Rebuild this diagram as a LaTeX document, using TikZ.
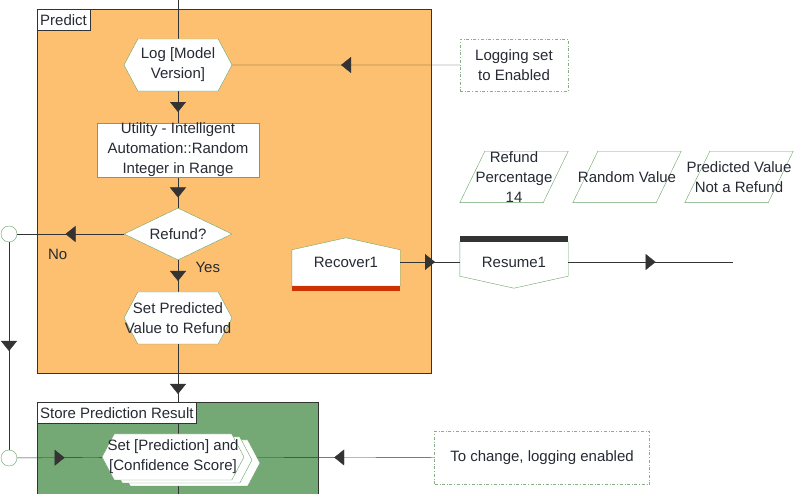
\documentclass[tikz,border=0pt]{standalone}
\usepackage{fontspec}
\setmainfont{Liberation Sans}
\usetikzlibrary{positioning,shapes.geometric,shapes.symbols,shadows,arrows.meta,decorations.markings}

\definecolor{predfill}{HTML}{FDC070}
\definecolor{storefill}{HTML}{74A874}
\definecolor{edgegreen}{HTML}{6AA56A}
\definecolor{linec}{HTML}{333333}
\definecolor{textc}{HTML}{262A33}
\definecolor{barred}{HTML}{CC3300}
\definecolor{notec}{HTML}{8AAE8A}
\newcommand{\ctr}[1]{\makebox[0pt]{#1}}
\pgfdeclarelayer{bg}
\pgfdeclarelayer{lines}
\pgfsetlayers{bg,lines,main}

\begin{document}
\begin{tikzpicture}[x=1pt, y=-1pt, on grid, node distance=84pt,
    font=\fontsize{15}{20}\selectfont, text=textc,
    hexa/.style={signal, signal to=east and west, signal pointer angle=124,
      draw=edgegreen, fill=white, minimum width=108pt, minimum height=52pt,
      inner sep=0pt, align=center},
    act/.style={rectangle, draw=edgegreen, fill=white, minimum width=162pt,
      minimum height=52pt, inner sep=0pt, align=center},
    decision/.style={diamond, aspect=2, draw=edgegreen, fill=white,
      minimum width=108pt, minimum height=52pt, inner sep=0pt},
    note/.style={rectangle, draw=notec, dash dot, fill=white, inner sep=0pt, align=center},
    junction/.style={circle, draw=edgegreen, fill=white, minimum size=16pt, inner sep=0pt},
    title/.style={rectangle, draw=linec, fill=white, anchor=north west,
      minimum height=21pt, inner xsep=3pt, inner ysep=0pt},
    hold/.style={rectangle, minimum width=108pt, inner sep=0pt, align=center},
    flow/.style={draw=linec, postaction={decorate}, decoration={markings,
        mark=at position 0.5 with {\arrow[xshift=5pt]{Triangle[length=10pt,width=16pt]}}}}]
  \useasboundingbox (0,0) rectangle (796,494);
  % containers
  \begin{pgfonlayer}{bg}
    \filldraw[fill=predfill, draw=linec] (37,9) rectangle (431,373);
    \fill[storefill] (37,402) rectangle (318,494);
    \draw[linec] (37,494) -- (37,402) -- (318,402) -- (318,494);
  \end{pgfonlayer}
  \node[title] (predtitle) at (37,9) {Predict};
  \node[title] (storetitle) at (37,402) {Store Prediction Result};
  % main column
  \node[hexa] (log) at (178,65) {\ctr{Log [Model}\\\ctr{Version]}};
  \node[act] (util) [below=85pt of log] {Utility - Intelligent\\Automation::Random\\Integer in Range};
  \node[decision] (refund) [below=of util] {Refund?};
  \node[hexa] (setpred) [below=of refund] {\ctr{Set Predicted}\\\ctr{Value to Refund}};
  \node[hexa, minimum width=142pt, minimum height=46pt,
    double copy shadow={shadow xshift=8pt, shadow yshift=-3pt, draw=edgegreen, fill=white}]
    (setres) at (173,457) {\ctr{Set [Prediction] and}\\\ctr{[Confidence Score]}};
  \node[junction] (c1) at (9,234) {};
  \node[junction] (c2) at (9,458) {};
  \coordinate (top) at (178,0);
  \coordinate (bot) at (178,494);
  % notes
  \node[note, minimum width=108pt, minimum height=52pt] (logging) [right=336pt of log] {Logging set\\to Enabled};
  \node[note, minimum width=215pt, minimum height=53pt] (tochange) at (542,458) {To change, logging enabled};
  % data items
  \node[hold, minimum height=51pt] (pct) at (514,177) {\ctr{Refund}\\\ctr{Percentage}\\\ctr{14}};
  \node[hold, minimum height=51pt] (rand) [right=113pt of pct] {Random Value};
  \node[hold, minimum height=51pt] (predv) [right=112pt of rand] {\ctr{Predicted Value}\\\ctr{Not a Refund}};
  % recover / resume
  \node[hold, minimum height=48pt] (recover) at (346,262) {Recover1};
  \node[hold, minimum height=52pt] (resume) [right=168pt of recover] {Resume1};
  \coordinate (endpt) at (733,262);
  \begin{pgfonlayer}{lines}
    \foreach \d in {pct,rand,predv}
      \filldraw[fill=white, draw=edgegreen] ([xshift=25pt]\d.north west) -- (\d.north east)
        -- ([xshift=-25pt]\d.south east) -- (\d.south west) -- cycle;
    \filldraw[fill=white, draw=edgegreen] (recover.south west) -- ([yshift=-12pt]recover.north west)
      -- (recover.north) -- ([yshift=-12pt]recover.north east) -- (recover.south east) -- cycle;
    \fill[barred] (recover.south west) rectangle ([yshift=-5pt]recover.south east);
    \filldraw[fill=white, draw=edgegreen] ([yshift=-6pt]resume.north west) -- ([yshift=-6pt]resume.north east)
      -- ([yshift=12pt]resume.south east) -- (resume.south) -- ([yshift=12pt]resume.south west) -- cycle;
    \fill[linec] (resume.north west) rectangle ([yshift=-6pt]resume.north east);
    % connectors
    \draw[linec] (top) -- (log);
    \path (log) edge[flow] (util)
      (util) edge[flow] (refund)
      (refund) edge[flow] node[pos=0.22, anchor=west, xshift=14pt] {Yes} (setpred)
      (refund) edge[flow] node[pos=0.62, anchor=north, yshift=-12pt] {No} (c1)
      (c1) edge[flow] (c2)
      (c2) edge[flow] (setres)
      (logging) edge[flow] (log)
      (tochange) edge[flow] (setres)
      (setpred) edge[flow] (setpred |- setres.north)
      (recover) edge[flow] (resume)
      (resume) edge[flow] (endpt);
    \draw[linec] (bot |- setres.south) -- (bot);
  \end{pgfonlayer}
\end{tikzpicture}
\end{document}
